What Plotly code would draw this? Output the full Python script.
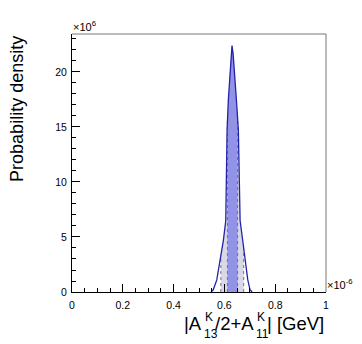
import numpy as np
import plotly.graph_objects as go

# curve (x in 1e-6 GeV, density in 1e6 / GeV)
x_pts = [0.548, 0.556, 0.570, 0.583, 0.596, 0.6054, 0.608, 0.6105, 0.6156, 0.6224, 0.6265, 0.630,
         0.6345, 0.6393, 0.6472, 0.655, 0.658, 0.6618, 0.672, 0.6815, 0.692, 0.701, 0.709]
dens = [0.0, 0.2, 1.1, 2.9, 4.7, 6.5, 10.5, 14.7, 17.5, 20.2, 21.6, 22.4,
        21.6, 20.2, 17.5, 14.7, 10.5, 6.5, 4.7, 2.9, 1.1, 0.2, 0.0]

band68 = [0.612, 0.652]
band95 = [0.586, 0.676]

x_ticks = [0, 0.2, 0.4, 0.6, 0.8, 1]
x_ticklabels = ["0", "0.2", "0.4", "0.6", "0.8", "1"]
y_ticks = [0, 5, 10, 15, 20]
y_ticklabels = ["0", "5", "10", "15", "20"]

LINE = "rgb(35,35,170)"
C68 = "rgb(146,146,230)"
C95 = "rgb(216,216,230)"
FONT = "Liberation Sans, Arial, sans-serif"

x_arr = np.array(x_pts)
y_arr = np.array(dens)


def band_part(lo, hi):
    inner = x_arr[(x_arr > lo) & (x_arr < hi)]
    xs = np.concatenate([[lo], inner, [hi]])
    ys = np.interp(xs, x_arr, y_arr)
    return xs, ys


fig = go.Figure()

for (lo, hi), col in [(band95, C95), (band68, C68)]:
    bx, by = band_part(lo, hi)
    fig.add_trace(go.Scatter(x=bx, y=by, mode="lines", line=dict(width=0),
                             fill="tozeroy", fillcolor=col, hoverinfo="skip"))
    # dotted edges of the band
    for e in (lo, hi):
        fig.add_trace(go.Scatter(x=[e, e], y=[0, float(np.interp(e, x_arr, y_arr))], mode="lines",
                                 line=dict(color="rgb(110,110,150)", width=1, dash="dot"),
                                 hoverinfo="skip"))

fig.add_trace(go.Scatter(x=x_pts, y=dens, mode="lines", line=dict(color=LINE, width=1.3)))

# the page body has an 8px margin, so the figure is shrunk and shifted by that
fig.update_layout(
    width=354, height=336,
    margin=dict(l=64, r=36, t=26, b=52),
    paper_bgcolor="white", plot_bgcolor="white",
    showlegend=False,
    font=dict(family=FONT, color="black", size=10.5),
    xaxis=dict(range=[0, 1], tickvals=x_ticks, ticktext=x_ticklabels,
               ticks="inside", ticklen=8, tickcolor="black", showgrid=False, zeroline=False,
               showline=True, linecolor="black", linewidth=1, ticklabelstandoff=3,
               minor=dict(dtick=0.05, ticks="inside", ticklen=4, tickcolor="black")),
    yaxis=dict(range=[0, 23.45], tickvals=y_ticks, ticktext=y_ticklabels,
               ticks="inside", ticklen=8, tickcolor="black", showgrid=False, zeroline=False,
               showline=True, linecolor="black", linewidth=1, ticklabelstandoff=2,
               minor=dict(dtick=1, ticks="inside", ticklen=4, tickcolor="black")),
)

# grey frame on top and right
fig.add_shape(type="line", xref="paper", yref="paper", x0=0, x1=1, y0=1, y1=1,
              line=dict(color="#777", width=1))
fig.add_shape(type="line", xref="paper", yref="paper", x0=1, x1=1, y0=0, y1=1,
              line=dict(color="#777", width=1))

ann = []
ann.append(dict(text="×10<sup>6</sup>", x=0, y=1, xanchor="left", yanchor="bottom",
                font=dict(size=11)))
ann.append(dict(text="×10<sup>-6</sup>", x=1, y=0, xanchor="left", yanchor="bottom",
                font=dict(size=11)))
ann.append(dict(text="Probability density", x=-0.217, y=0.996, xanchor="center", yanchor="top",
                textangle=-90, font=dict(size=18)))

# x title in pieces so that super/subscripts stack
big, small = 18.5, 12
ann.append(dict(text="|A", x=0.5146, y=-0.124, xanchor="right", yanchor="middle", font=dict(size=big)))
ann.append(dict(text="K", x=0.518, y=-0.097, xanchor="left", yanchor="middle", font=dict(size=small)))
ann.append(dict(text="13", x=0.5146, y=-0.162, xanchor="left", yanchor="middle", font=dict(size=small)))
ann.append(dict(text="/2+A", x=0.7193, y=-0.124, xanchor="right", yanchor="middle", font=dict(size=big)))
ann.append(dict(text="K", x=0.723, y=-0.097, xanchor="left", yanchor="middle", font=dict(size=small)))
ann.append(dict(text="11", x=0.7193, y=-0.162, xanchor="left", yanchor="middle", font=dict(size=small)))
ann.append(dict(text="| [GeV]", x=0.998, y=-0.124, xanchor="right", yanchor="middle", font=dict(size=big)))

for a in ann:
    fig.add_annotation(xref="paper", yref="paper", showarrow=False, borderpad=0, **a)

fig.write_html("out.html")
